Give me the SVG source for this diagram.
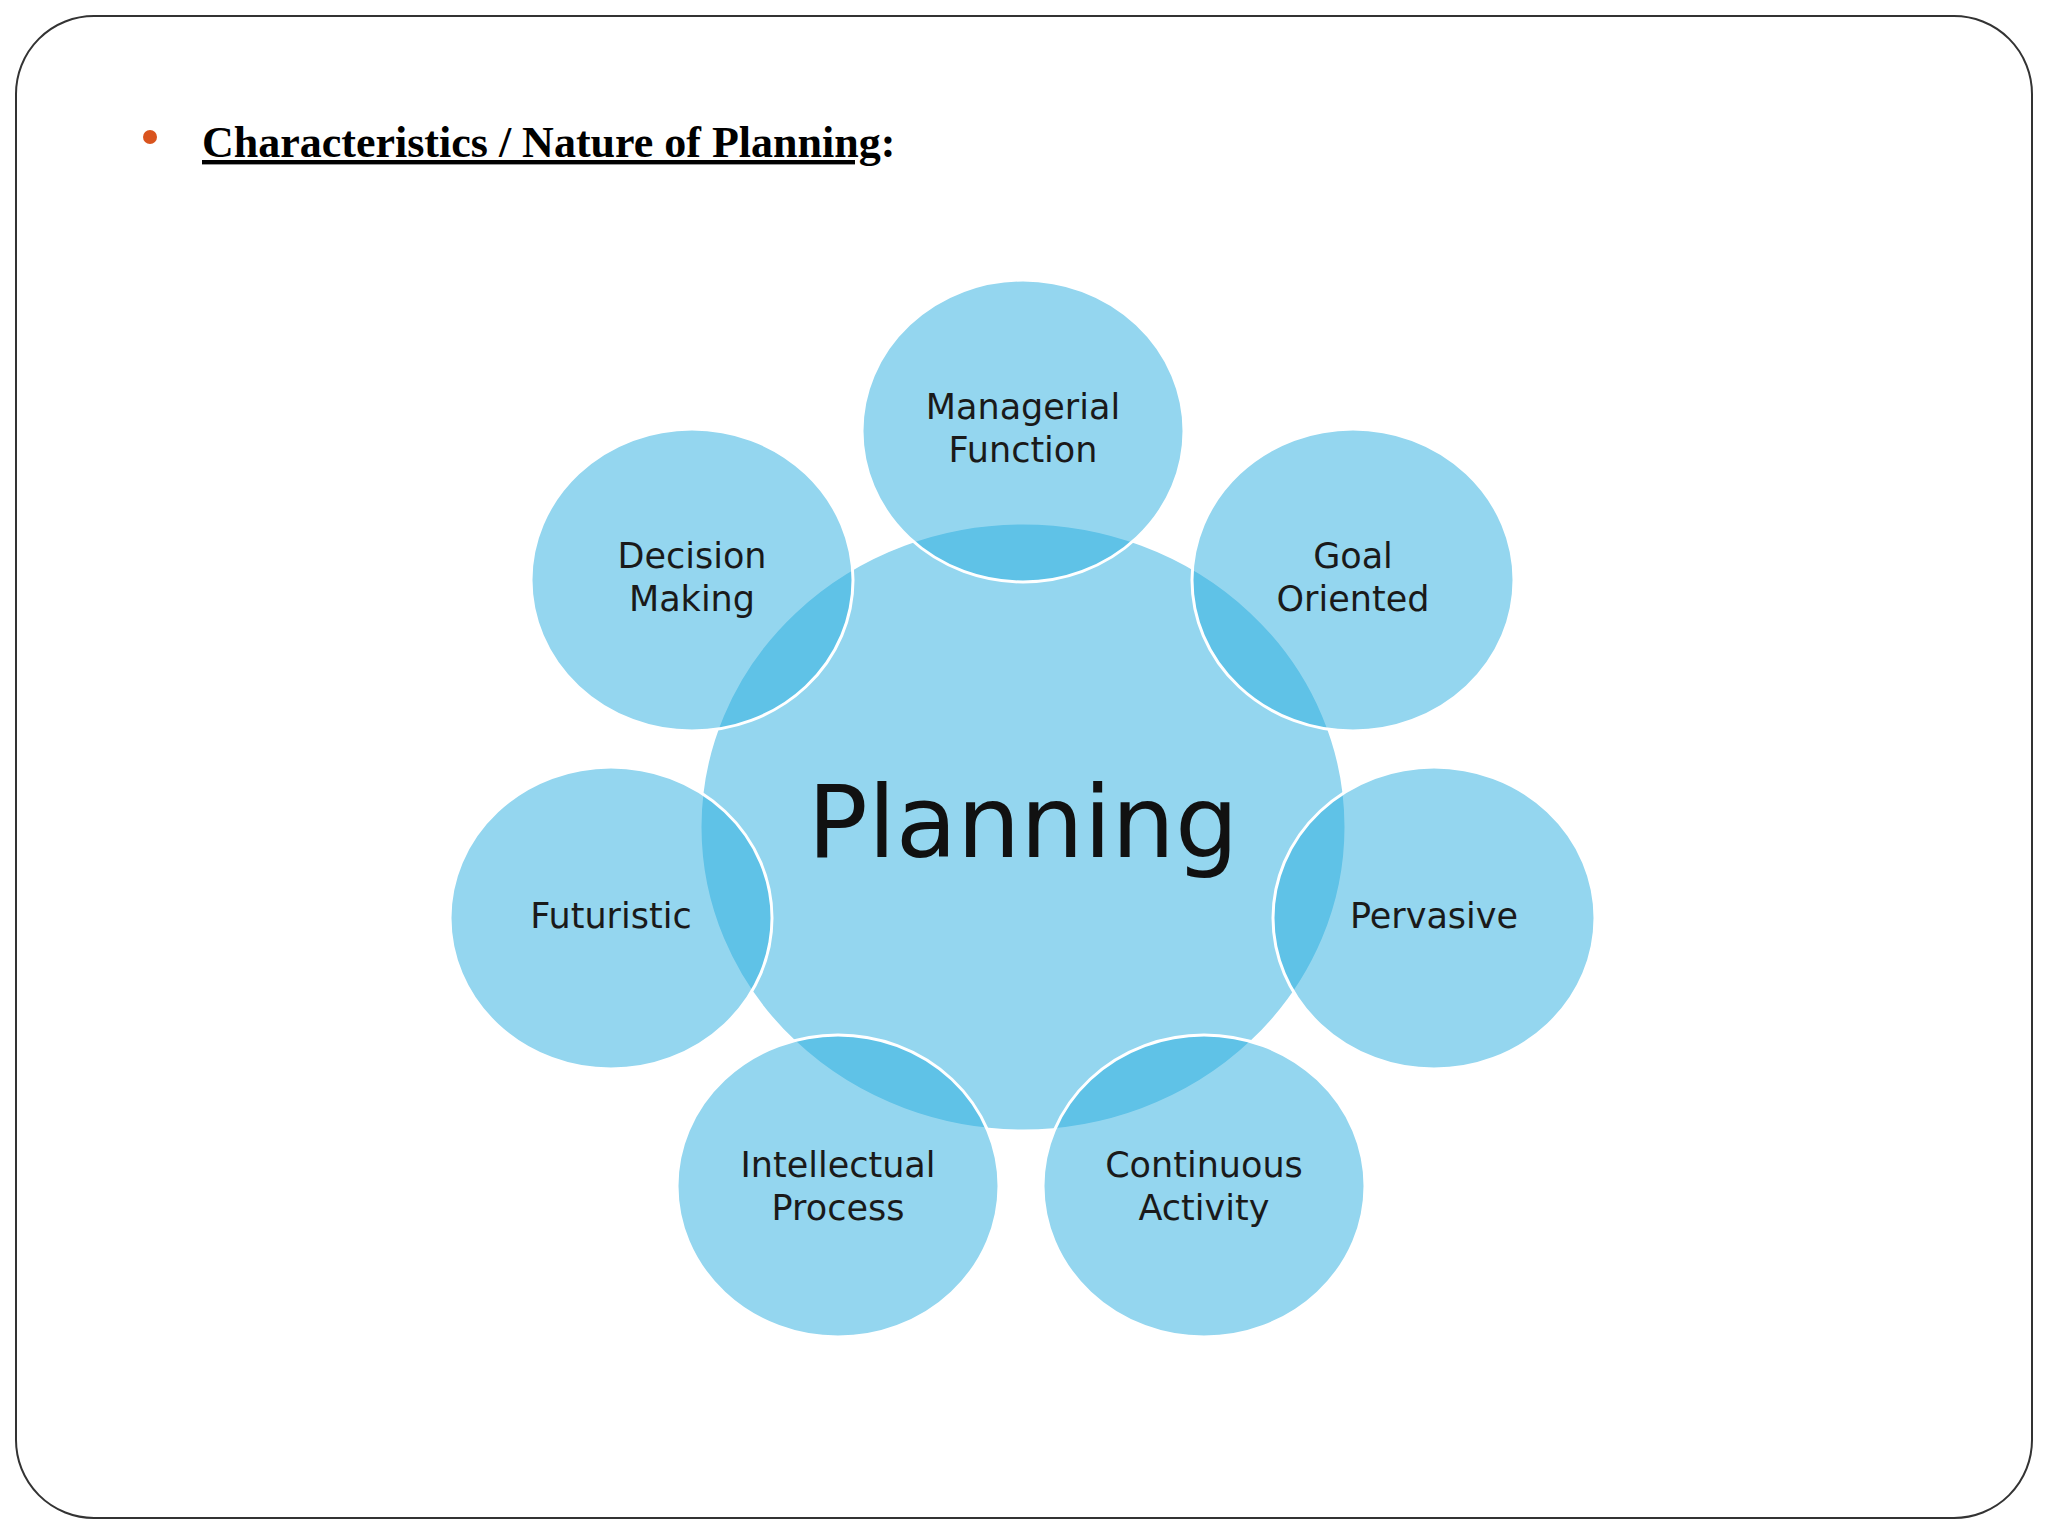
<svg xmlns="http://www.w3.org/2000/svg" width="2048" height="1536" viewBox="0 0 2048 1536">
<style>
.c{fill:#29aee0;fill-opacity:0.5;stroke:#ffffff;stroke-width:3}
.t{font-family:"DejaVu Sans",sans-serif;font-size:35px;fill:#1a1a1a;text-anchor:middle}
</style>
<rect x="0" y="0" width="2048" height="1536" fill="#ffffff"/>
<rect x="16" y="16" width="2016" height="1502" rx="78" fill="#ffffff" stroke="#333" stroke-width="2"/>
<circle cx="150" cy="137" r="7" fill="#d9541e"/>
<text x="202" y="157" font-family="Liberation Serif,serif" font-size="44" font-weight="bold" fill="#000"><tspan text-decoration="underline">Characteristics / Nature of Planning</tspan>:</text>
<g id="planning"><ellipse class="c" cx="1023" cy="827" rx="323" ry="304"/><text x="1023" y="857" font-family="DejaVu Sans,sans-serif" font-size="100" fill="#111" text-anchor="middle">Planning</text></g>
<g id="managerial"><ellipse class="c" cx="1023" cy="431" rx="161" ry="151"/><text class="t" x="1023" y="419">Managerial</text><text class="t" x="1023" y="462">Function</text></g>
<g id="decision"><ellipse class="c" cx="692" cy="580" rx="161" ry="151"/><text class="t" x="692" y="568">Decision</text><text class="t" x="692" y="611">Making</text></g>
<g id="goal"><ellipse class="c" cx="1353" cy="580" rx="161" ry="151"/><text class="t" x="1353" y="568">Goal</text><text class="t" x="1353" y="611">Oriented</text></g>
<g id="futuristic"><ellipse class="c" cx="611" cy="918" rx="161" ry="151"/><text class="t" x="611" y="928">Futuristic</text></g>
<g id="pervasive"><ellipse class="c" cx="1434" cy="918" rx="161" ry="151"/><text class="t" x="1434" y="928">Pervasive</text></g>
<g id="intellectual"><ellipse class="c" cx="838" cy="1186" rx="161" ry="151"/><text class="t" x="838" y="1177">Intellectual</text><text class="t" x="838" y="1220">Process</text></g>
<g id="continuous"><ellipse class="c" cx="1204" cy="1186" rx="161" ry="151"/><text class="t" x="1204" y="1177">Continuous</text><text class="t" x="1204" y="1220">Activity</text></g>
<g id="connectors"/>
</svg>
